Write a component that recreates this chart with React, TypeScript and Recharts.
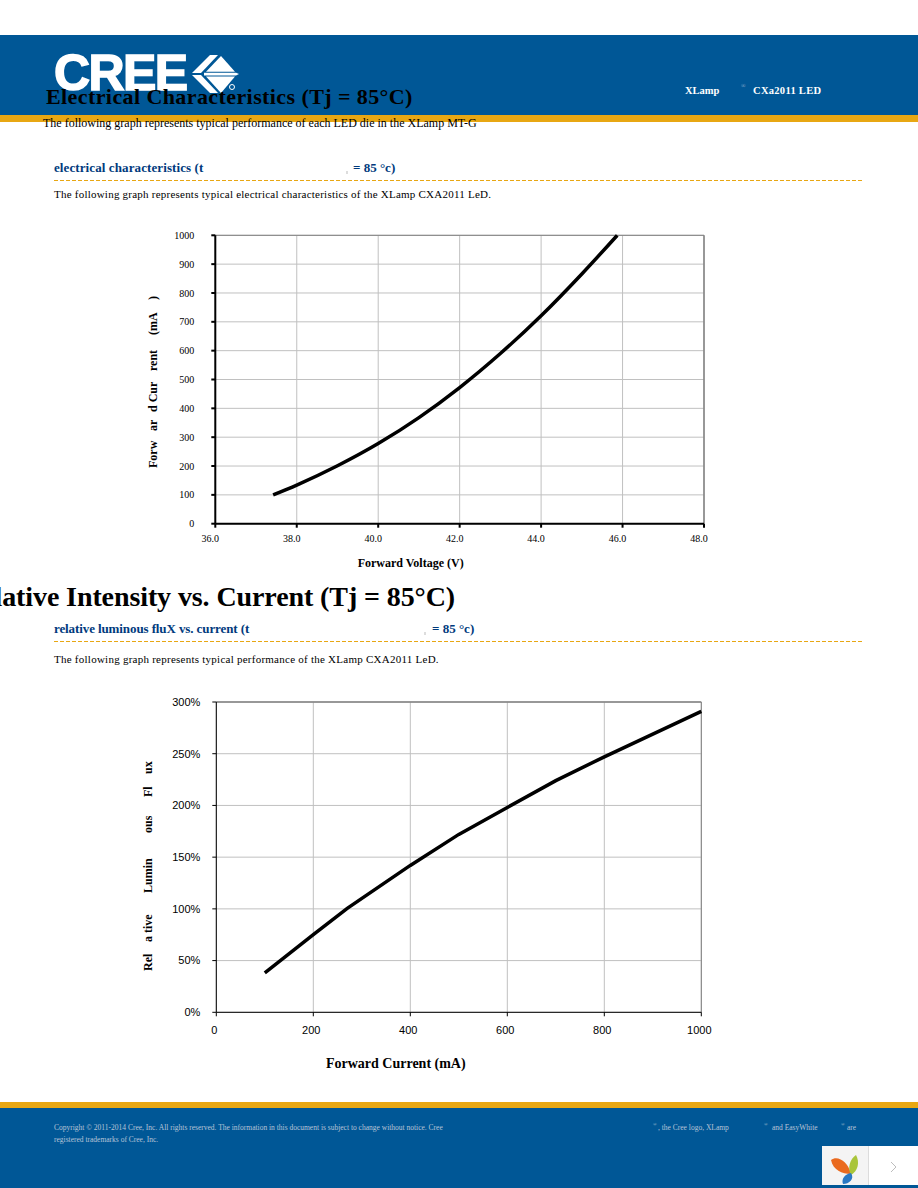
import { LineChart, Line, XAxis, YAxis, CartesianGrid, ReferenceLine } from "recharts"

const voltage = [37.42, 38, 39, 40, 41, 42, 43, 44, 45, 45.87]
const currentMa = [100, 134, 201, 278, 368, 472, 590, 721, 866, 1000]
const voltageTicks = [36, 38, 40, 42, 44, 46, 48]
const currentTicks = [0, 100, 200, 300, 400, 500, 600, 700, 800, 900, 1000]

const forwardCurrent = [100, 200, 270, 400, 500, 600, 700, 800, 1000]
const relativeFlux = [38, 75, 100.5, 142, 172, 198, 224, 247, 291]
const fluxCurrentTicks = [0, 200, 400, 600, 800, 1000]
const fluxTicks = [0, 50, 100, 150, 200, 250, 300]

// the source pdf lost some glyph spacing, so the y titles come in pieces
const yTitleOne: [string, number][] = [["Forw", 468], ["ar", 431], ["d Cur", 412], ["rent", 371], ["(mA", 335], [")", 300]]
const yTitleTwo: [string, number][] = [["Rel", 971], ["a tive", 942], ["Lumin", 893], ["ous", 833], ["Fl", 797], ["ux", 774]]

const voltageData = voltage.map((v, i) => ({ v, i: currentMa[i] }))
const fluxData = forwardCurrent.map((c, i) => ({ c, f: relativeFlux[i] }))

const SERIF = "'Liberation Serif', serif"
const SANS = "'Liberation Sans', sans-serif"
const BLUE = "#005796"
const GOLD = "#e8a713"
const NAVY = "#003a7d"
const FOOT = "#b9c4d6"

function T({ x, y, size, color = "#000", bold, spacing, children, right }: any) {
  return (
    <div
      style={{
        position: "absolute",
        ...(right != null ? { right: 918 - right } : { left: x }),
        top: y,
        fontFamily: SERIF,
        fontSize: size,
        lineHeight: 1,
        color,
        fontWeight: bold ? 700 : 400,
        letterSpacing: spacing,
        whiteSpace: "pre",
      }}
    >
      {children}
    </div>
  )
}

function Box({ x, y, w, h, color }: any) {
  return <div style={{ position: "absolute", left: x, top: y, width: w, height: h, background: color }} />
}

function Dashed({ y, color }: any) {
  return (
    <div
      style={{
        position: "absolute",
        left: 54,
        top: y,
        width: 810,
        height: 1,
        background: `repeating-linear-gradient(90deg, ${color} 0 4px, transparent 4px 6px)`,
      }}
    />
  )
}

function pieces(list: [string, number][], x: number, top: number, size: number) {
  return () => (
    <g>
      {list.map(([s, y]) => (
        <text
          key={s}
          transform={`translate(${x} ${y - top}) rotate(-90)`}
          fontFamily={SERIF}
          fontWeight={700}
          fontSize={size}
          fill="#000"
        >
          {s}
        </text>
      ))}
    </g>
  )
}

function Logo() {
  return (
    <>
      <div
        style={{
          position: "absolute",
          left: 54,
          top: 50,
          fontFamily: SANS,
          fontWeight: 700,
          fontSize: 50,
          lineHeight: "47px",
          letterSpacing: -1.6,
          color: "#fff",
          WebkitTextStroke: "1.5px #fff",
        }}
      >
        CREE
      </div>
      <svg style={{ position: "absolute", left: 185, top: 50 }} width={60} height={50}>
        <polygon points="7,23 25,5 33,5 16,23" fill="#fff" />
        <polygon points="7,25 16,25 33,43 25,43" fill="#fff" />
        <polygon points="21,21.7 36,6 50,21.7" fill="#fff" />
        <polygon points="19,22.8 51,22.8 54,24 51,25.4 19,25.4" fill="#fff" />
        <polygon points="21,26.5 50,26.5 36,43" fill="#fff" />
        <circle cx="47" cy="37" r="2.5" fill="none" stroke="#fff" strokeWidth={1} />
      </svg>
    </>
  )
}

function Widget() {
  return (
    <svg style={{ position: "absolute", left: 822, top: 1146 }} width={96} height={39}>
      <rect width={96} height={39} fill="#fff" />
      <rect width={46} height={39} fill="#f4f4f4" />
      <rect x={46} width={1} height={39} fill="#dcdcdc" />
      <path d="M9 14 C16 9 26 16 29 28 C20 28 11 24 9 14Z" fill="#ea6a1f" />
      <path d="M34 9 C38 16 36 25 29 29 C25 22 28 13 34 9Z" fill="#a9c53a" />
      <path d="M29 27 C33 33 27 38 21 38 C19 33 23 28 29 27Z" fill="#2a78c4" />
      <path d="M69 16 L74 21 L69 26" fill="none" stroke="#bdbdbd" strokeWidth={1} />
    </svg>
  )
}

export default function App() {
  return (
    <div style={{ position: "absolute", left: 0, top: 0, width: 918, height: 1188, overflow: "hidden", background: "#fff" }}>
      <Box x={0} y={35} w={918} h={80} color={BLUE} />
      <Box x={0} y={115} w={918} h={7} color={GOLD} />
      <Logo />
      <T x={685} y={86} size={10.5} color="#fff" bold>XLamp</T>
      <T x={741} y={83} size={6} color="#9fb4d0">®</T>
      <T x={753} y={86} size={10.5} color="#fff" bold spacing={0.3}>CXa2011 LED</T>

      <T x={46} y={86} size={22} bold spacing={0.41}>Electrical Characteristics (Tj = 85°C)</T>
      <T x={43} y={117} size={12}>The following graph represents typical performance of each LED die in the XLamp MT-G</T>

      <T x={54} y={161} size={13} color={NAVY} bold spacing={0.1}>electrical characteristics (t</T>
      <Box x={346} y={171} w={2} h={3} color="#dddddd" />
      <T x={353} y={161} size={13} color={NAVY} bold>= 85 °c)</T>
      <Dashed y={180} color={GOLD} />
      <T x={54} y={189} size={11} spacing={0.23}>The following graph represents typical electrical characteristics of the XLamp CXA2011 LeD.</T>

      <div style={{ position: "absolute", left: 0, top: 220 }}>
        <LineChart width={918} height={360} data={voltageData} margin={{ top: 15.3, right: 214, bottom: 26.3, left: 175.3 }}>
          <CartesianGrid stroke="#c0c0c0" strokeWidth={1} />
          <XAxis
            type="number"
            dataKey="v"
            domain={[36, 48]}
            ticks={voltageTicks}
            interval={0}
            height={30}
            tickFormatter={(v: number) => v.toFixed(1)}
            stroke="#000"
            strokeWidth={2}
            tickSize={4}
            tickMargin={7}
            tick={{ fontFamily: SERIF, fontSize: 10, fill: "#000", dx: -5 }}
            label={{ value: "Forward Voltage (V)", position: "insideBottom", offset: -13, dx: -49, style: { fontFamily: SERIF, fontSize: 12, fontWeight: 700, fill: "#000" } }}
          />
          <YAxis
            type="number"
            domain={[0, 1000]}
            ticks={currentTicks}
            interval={0}
            width={40}
            stroke="#000"
            strokeWidth={2}
            tickSize={4}
            tickMargin={17}
            tick={{ fontFamily: SERIF, fontSize: 10, fill: "#000" }}
            label={{ content: pieces(yTitleOne, 157, 220, 12) }}
          />
          <ReferenceLine y={1000} stroke="#808080" strokeWidth={1} />
          <ReferenceLine x={48} stroke="#808080" strokeWidth={1.5} />
          <Line type="monotone" dataKey="i" stroke="#000" strokeWidth={3.5} dot={false} isAnimationActive={false} />
        </LineChart>
      </div>

      <T right={455} y={583} size={28} bold spacing={-0.1}>Relative Intensity vs. Current (Tj = 85°C)</T>
      <T x={54} y={622} size={13} color={NAVY} bold spacing={-0.1}>relative luminous fluX vs. current (t</T>
      <Box x={424} y={632} w={2} h={3} color="#dddddd" />
      <T x={432} y={622} size={13} color={NAVY} bold>= 85 °c)</T>
      <Dashed y={641} color={GOLD} />
      <T x={54} y={654} size={11} spacing={0.25}>The following graph represents typical performance of the XLamp CXA2011 LeD.</T>

      <div style={{ position: "absolute", left: 0, top: 690 }}>
        <LineChart width={918} height={390} data={fluxData} margin={{ top: 12, right: 216.7, bottom: 17.7, left: 176.3 }}>
          <CartesianGrid stroke="#c0c0c0" strokeWidth={1} />
          <XAxis
            type="number"
            dataKey="c"
            domain={[0, 1000]}
            ticks={fluxCurrentTicks}
            interval={0}
            height={50}
            stroke="#000"
            tickSize={4}
            tickMargin={10}
            tick={{ fontFamily: SANS, fontSize: 11, fill: "#000", dx: -2 }}
            label={{ value: "Forward Current (mA)", position: "insideBottom", offset: -6, dx: -63, style: { fontFamily: SERIF, fontSize: 14, fontWeight: 700, fill: "#000" } }}
          />
          <YAxis
            type="number"
            domain={[0, 300]}
            ticks={fluxTicks}
            interval={0}
            width={40}
            tickFormatter={(v: number) => `${v}%`}
            stroke="#000"
            tickSize={4}
            tickMargin={12}
            tick={{ fontFamily: SANS, fontSize: 11, fill: "#000" }}
            label={{ content: pieces(yTitleTwo, 152, 690, 12) }}
          />
          <ReferenceLine y={300} stroke="#808080" strokeWidth={1.5} />
          <ReferenceLine x={1000} stroke="#808080" strokeWidth={1} />
          <Line type="linear" dataKey="f" stroke="#000" strokeWidth={3.5} dot={false} isAnimationActive={false} />
        </LineChart>
      </div>

      <Box x={0} y={1102} w={918} h={6} color={GOLD} />
      <Box x={0} y={1108} w={918} h={80} color={BLUE} />
      <T x={54} y={1124} size={7.5} color={FOOT}>Copyright © 2011-2014 Cree, Inc. All rights reserved. The information in this document is subject to change without notice. Cree</T>
      <T x={54} y={1136} size={7.5} color={FOOT}>registered trademarks of Cree, Inc.</T>
      <T x={653} y={1122} size={5} color={FOOT}>®</T>
      <T x={658} y={1124} size={7.5} color={FOOT}>, the Cree logo, XLamp</T>
      <T x={764} y={1122} size={5} color={FOOT}>®</T>
      <T x={772} y={1124} size={7.5} color={FOOT}>and EasyWhite</T>
      <T x={841} y={1122} size={5} color={FOOT}>®</T>
      <T x={847} y={1124} size={7.5} color={FOOT}>are</T>
      <Widget />
    </div>
  )
}
